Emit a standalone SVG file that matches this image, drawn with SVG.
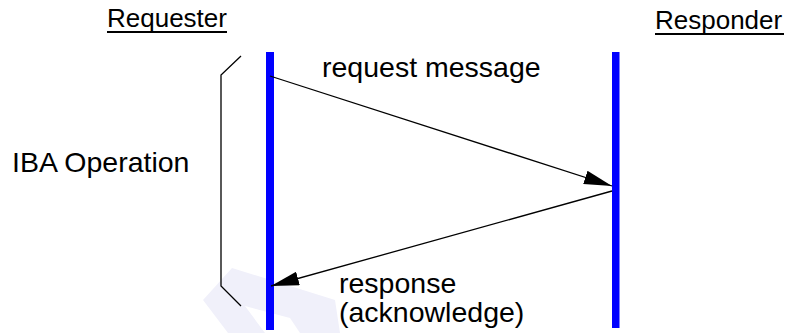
<svg xmlns="http://www.w3.org/2000/svg" width="797" height="333" viewBox="0 0 797 333">
<style>
text{font-family:"Liberation Sans",Arial,sans-serif;font-size:28.5px;fill:#000}
.hd{font-size:26px}
.life{fill:#0000ff}
.msg{stroke:#000;stroke-width:1.3;fill:none}
.br{stroke:#000;stroke-width:1.3;fill:none}
.wm{fill:#f0f0fa}
</style>
<defs>
<marker id="ah" viewBox="0 0 28 14" refX="28" refY="7" markerWidth="28" markerHeight="14" markerUnits="userSpaceOnUse" orient="auto">
<path d="M0,0 L28,7 L0,14 Z" fill="#000"/>
</marker>
</defs>
<g id="watermark">
<path class="wm" d="M203,300 L232,268 L335,300 L340,333 L300,333 L290,318 L245,306 L265,333 L228,333 Z"/>
</g>
<g id="requester">
<text class="hd" x="107" y="27">Requester</text>
<rect x="107" y="31" width="120" height="2"/>
<rect class="life" x="266" y="52" width="8" height="278"/>
</g>
<g id="responder">
<text class="hd" x="655" y="29">Responder</text>
<rect x="655" y="33" width="129" height="2"/>
<rect class="life" x="612" y="52" width="7.5" height="276"/>
</g>
<g id="operation">
<path class="br" d="M241,56 L221,75 L221,286 L241,306"/>
<text x="12" y="172">IBA Operation</text>
</g>
<g id="connectors">
<path class="msg" d="M270,76 L612,186" marker-end="url(#ah)"/>
<path class="msg" d="M612,191 L271,286" marker-end="url(#ah)"/>
</g>
<g id="labels">
<text x="322" y="77">request message</text>
<text x="339" y="293">response</text>
<text x="339" y="322">(acknowledge)</text>
</g>
</svg>
